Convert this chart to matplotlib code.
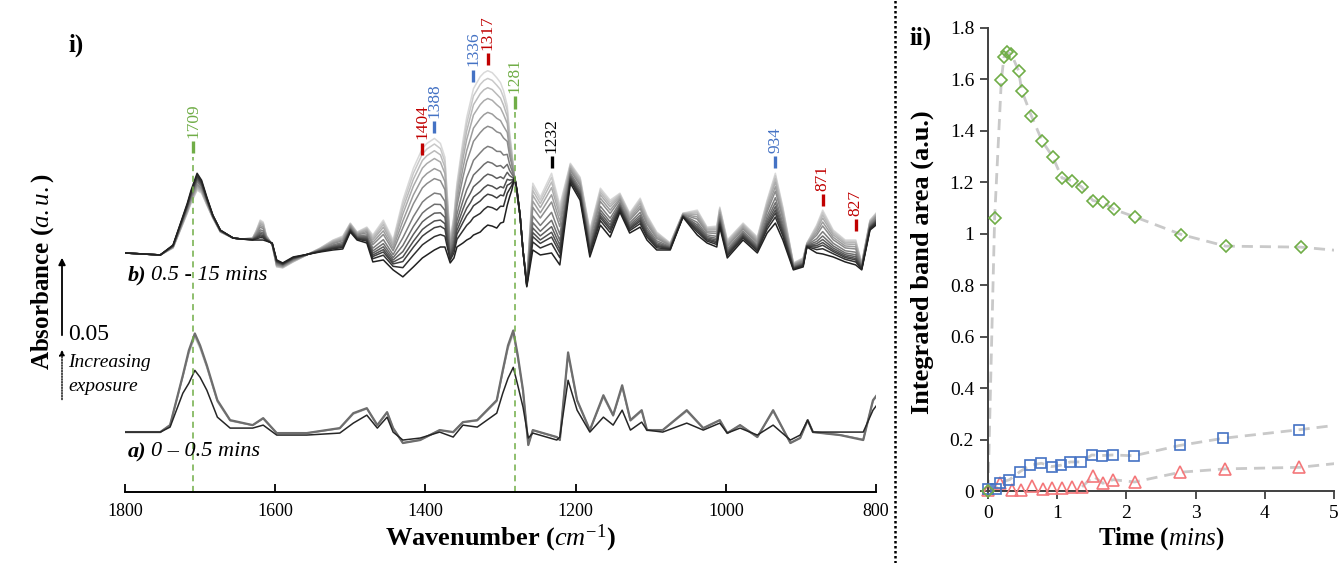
import matplotlib
matplotlib.use('Agg')
import matplotlib.pyplot as plt
import numpy as np
from matplotlib.lines import Line2D
from matplotlib.transforms import blended_transform_factory
from matplotlib.ticker import FuncFormatter

plt.rcParams['font.family'] = ['Liberation Serif', 'DejaVu Serif']
plt.rcParams['mathtext.fontset'] = 'custom'
plt.rcParams['mathtext.rm'] = 'Liberation Serif'
plt.rcParams['mathtext.it'] = 'Liberation Serif:italic'
plt.rcParams['mathtext.bf'] = 'Liberation Serif:bold'
plt.rcParams['mathtext.default'] = 'it'

# ---------------- spectra (absorbance in mAU, relative to each baseline) ----------------
# b) 0.5 - 15 mins : first (dark) and last (light) spectrum
wn_b = [1800, 1753, 1736, 1717, 1712, 1704, 1698, 1691, 1683, 1673, 1656, 1645, 1630, 1625,
        1620, 1616, 1612, 1604, 1598, 1590, 1576, 1540, 1523, 1510, 1500, 1491, 1478, 1470,
        1456, 1443, 1430, 1416, 1404, 1398, 1388, 1380, 1374, 1367, 1362, 1358, 1350, 1345,
        1340, 1336, 1327, 1322, 1317, 1311, 1305, 1300, 1296, 1291, 1288, 1285, 1281, 1278,
        1274, 1270, 1265, 1257, 1247, 1232, 1221, 1207, 1194, 1181, 1167, 1154, 1141, 1128,
        1114, 1105, 1092, 1074, 1057, 1038, 1025, 1012, 1008, 998, 977, 958, 945, 934, 924,
        910, 897, 892, 879, 871, 857, 841, 827, 819, 808, 800]
dark_b = [0, -1.2, 4.8, 30, 37.8, 48, 43.8, 33.6, 22.8, 13.8, 9, 8.4, 7.8, 7.8,
          7.8, 7.8, 7.2, 6, -4.2, -6, -2.4, 0.6, 1.8, 2.4, 12.6, 7.8, 6, -5.4,
          -4.2, -10.2, -14.4, -8.4, -3, -1.2, 1.8, 3.6, 3.6, -6, -3, 3.6, 6, 7.8,
          9, 10.8, 12.6, 15, 16.8, 16.2, 15, 18, 18.6, 28.8, 33.6, 37.8, 45.6, 37.8,
          22.8, 1.2, -20.4, 1.8, -1.2, 0, -7.2, 42, 31.8, -2.4, 16.8, 9.6, 24.6, 12,
          15.6, 7.8, 1.8, 1.8, 21.6, 10.8, 6, 3.6, 15.6, -3, 7.8, 0, 12, 18, 7.8,
          -10.2, -8.4, 3.6, 0, -0.6, -2.4, -5.4, -7.2, -10.2, 13.8, 16.8]
light_b = [0, -1.2, 3, 24, 30, 37.8, 36, 28.8, 21, 12.6, 9, 8.4, 9, 13.8,
           19.8, 18.6, 10.8, 4.8, -8.4, -9, -5.4, 3, 7.8, 10.2, 18, 12.6, 15.6, 10.8,
           19.8, 7.8, 31.8, 51, 63, 66, 69, 66, 57.6, 7.8, 22.8, 42, 67.8, 81.6,
           91.2, 99, 106.2, 108.6, 109.8, 108.6, 105.6, 102.6, 97.8, 88.8, 73.2, 61.8, 43.8, 34.8,
           22.8, 1.2, -16.2, 42, 33.6, 48, 28.8, 54, 45.6, 13.8, 39, 31.8, 36, 24,
           33, 22.8, 12.6, 6, 24, 25.8, 15.6, 16.2, 27.6, 7.8, 18, 9.6, 31.8, 48, 27.6,
           -6, -3, 6, 16.8, 25.8, 13.8, 7.8, 7.8, -6, 19.8, 24]
# fraction of the final band growth reached by each spectrum (early -> late)
growth_b = [0, 0.12, 0.20, 0.26, 0.33, 0.41, 0.51, 0.64, 0.73, 0.82, 0.89, 0.95, 1.0]

# a) 0 - 0.5 mins : dark (first) and grey spectra
wn_a = [1800, 1753, 1740, 1723, 1715, 1707, 1700, 1691, 1677, 1660, 1630, 1616, 1598, 1558,
        1514, 1496, 1478, 1464, 1451, 1443, 1430, 1407, 1381, 1363, 1350, 1331, 1318, 1305,
        1297, 1290, 1283, 1277, 1270, 1263, 1257, 1225, 1221, 1210, 1198, 1181, 1163, 1150,
        1138, 1127, 1112, 1105, 1084, 1052, 1030, 1008, 998, 981, 958, 937, 914, 901, 891,
        884, 848, 817, 804, 797]
dark_a = [0, 0, 3, 23.4, 29.4, 37.2, 33, 25.2, 9, 2.4, 2.4, 4.2, -1.8, -1.8,
          -0.6, 5.4, 10.2, 2.4, 9, 0, -4.8, -3.6, 0, -3, 4.2, 3, 7.2, 11.4,
          23.4, 32.4, 39, 28.2, 15, -3.6, -0.6, -4.8, -3, 31.2, 13.2, 0, 9, 4.2,
          13.2, 1.2, 6, 1.2, 0, 5.4, 1.2, 5.4, -0.6, 2.4, -1.8, 4.2, -4.8, -1.8, 7.2,
          0, 0, 0, 13.2, 17.4]
grey_a = [0, 0, 4.2, 34.2, 49.2, 59.4, 52.2, 40.2, 19.2, 7.2, 4.2, 8.4, -0.6, -0.6,
          2.4, 11.4, 14.4, 4.2, 12, 2.4, -6.6, -4.8, 1.2, 0, 6, 7.2, 13.2, 19.2,
          37.2, 52.2, 61.2, 46.2, 25.2, -7.8, 1.2, -3, -4.8, 48, 19.2, 1.2, 22.2, 10.2,
          28.2, 7.2, 13.2, 1.2, 1.2, 13.2, 2.4, 7.2, -0.6, 4.2, -3, 13.2, -6.6, -3.6, 7.2,
          0, -1.8, -4.8, 19.2, 23.4]
growth_a = [0, 1.0, 0.95, 0.9]

# marked bands
peak_wn = [1709, 1404, 1388, 1336, 1317, 1281, 1232, 934, 871, 827]
peak_col = ['#70ad47', '#c00000', '#4472c4', '#4472c4', '#c00000', '#70ad47', 'black',
            '#4472c4', '#c00000', '#c00000']

# ---------------- integrated band areas ----------------
t_green = [0, 0.096, 0.193, 0.231, 0.275, 0.337, 0.443, 0.487, 0.626, 0.785, 0.934, 1.069,
           1.209, 1.354, 1.517, 1.667, 1.816, 2.129, 2.794, 3.434, 4.518]
v_green = [0.0, 1.062, 1.598, 1.687, 1.706, 1.699, 1.633, 1.557, 1.459, 1.359, 1.300, 1.217,
           1.207, 1.182, 1.129, 1.122, 1.095, 1.065, 0.997, 0.952, 0.948]
t_blue = [0, 0.11, 0.17, 0.31, 0.46, 0.61, 0.77, 0.92, 1.05, 1.19, 1.34, 1.50, 1.65, 1.80,
          2.11, 2.77, 3.40, 4.49]
v_blue = [0.006, 0.006, 0.032, 0.044, 0.075, 0.100, 0.108, 0.095, 0.100, 0.113, 0.113, 0.140,
          0.138, 0.140, 0.137, 0.177, 0.205, 0.238]
t_red = [0, 0.17, 0.34, 0.48, 0.63, 0.79, 0.93, 1.07, 1.21, 1.36, 1.52, 1.66, 1.81, 2.12,
         2.78, 3.43, 4.50]
v_red = [0.004, 0.030, 0.004, 0.004, 0.019, 0.006, 0.010, 0.010, 0.016, 0.016, 0.058, 0.030,
         0.044, 0.035, 0.073, 0.086, 0.092]
# trend lines run on to the edge of the plot
t_end = 5.1
green_end, blue_end, red_end = 0.934, 0.258, 0.109

# ---------------- figure ----------------
fig = plt.figure(figsize=(13.38, 5.63), dpi=100)
W, H = 1338.0, 563.0

ax = fig.add_axes([125 / W, 71 / H, 751 / W, 492 / H])
ax.set_xlim(1800, 800)
ax.set_ylim(0, 0.2964)
off_b = 0.144
off_a = 0.0361

wb = np.array(wn_b)
db = np.array(dark_b)
lb = np.array(light_b)
greys_b = np.linspace(0.13, 0.85, len(growth_b))
for g, c in list(zip(growth_b, greys_b))[::-1]:
    ax.plot(wb, off_b + (db + g * (lb - db)) / 1000, color=str(c), lw=1.1,
            solid_joinstyle='round')

wa = np.array(wn_a)
da = np.array(dark_a)
ga = np.array(grey_a)
greys_a = ['#262626', '#6e6e6e', '#a0a0a0', '#c8c8c8']
for g, c in list(zip(growth_a, greys_a))[::-1]:
    lw = 1.6 if c == '#6e6e6e' else 1.1
    ax.plot(wa, off_a + (da + g * (ga - da)) / 1000, color=c, lw=lw, solid_joinstyle='round')

# band markers
tick_base = [0.204, 0.203, 0.216, 0.247, 0.257, 0.231, 0.195, 0.195, 0.172, 0.157]
for w, c, yb in zip(peak_wn, peak_col, tick_base):
    ax.plot([w, w], [yb, yb + 0.0075], color=c, lw=2.4, solid_capstyle='butt')
    ax.text(w, yb + 0.0095, str(w), color=c, rotation=90, ha='center', va='bottom',
            fontsize=12.5)
for w, yb in [(1709, 0.204), (1281, 0.231)]:
    ax.plot([w, w], [0, yb - 0.002], color='#70ad47', lw=1.1, ls=(0, (4, 3)))

ax.spines[['top', 'right', 'left']].set_visible(False)
ax.spines['bottom'].set_linewidth(1.4)
ax.set_yticks([])
ax.set_xticks([1800, 1600, 1400, 1200, 1000, 800])
ax.tick_params(axis='x', direction='in', length=6, width=1.3, labelsize=13, pad=8)
ax.set_xlabel(r'Wavenumber ($cm^{-1}$)', fontsize=19, fontweight='bold', labelpad=2)

# panel labels
fx = blended_transform_factory(fig.transFigure, ax.transData)
ax.text(128 / W, 0.1307, 'b)', transform=fx, fontsize=16, fontweight='bold',
        style='italic', va='center')
ax.text(151 / W, 0.1307, '0.5 - 15 mins', transform=fx, fontsize=16, style='italic',
        va='center')
ax.text(128 / W, 0.0241, 'a)', transform=fx, fontsize=16, fontweight='bold',
        style='italic', va='center')
ax.text(151 / W, 0.0241, '0 \u2013 0.5 mins', transform=fx, fontsize=16, style='italic',
        va='center')

# 0.05 absorbance scale bar
ax.annotate('', xy=(62 / W, 0.1428), xytext=(62 / W, 0.0928), xycoords=fx, textcoords=fx,
            arrowprops=dict(arrowstyle='-|>', color='black', lw=1.3, mutation_scale=10),
            annotation_clip=False)
ax.annotate('', xy=(62 / W, 0.0873), xytext=(62 / W, 0.054), xycoords=fx, textcoords=fx,
            arrowprops=dict(arrowstyle='-|>', color='black', lw=1.0, ls=(0, (1, 1)),
                            mutation_scale=8), annotation_clip=False)
ax.text(68 / W, 0.0946, '0.05', transform=fx, fontsize=17, va='center')
ax.text(68 / W, 0.0783, 'Increasing', transform=fx, fontsize=14, style='italic', va='center')
ax.text(68 / W, 0.0633, 'exposure', transform=fx, fontsize=14, style='italic', va='center')
fig.text(43 / W, 1 - 272 / H, r'Absorbance ($a.u.$)', rotation=90, fontsize=18,
         fontweight='bold', ha='center', va='center')
fig.text(76 / W, 1 - 45 / H, 'i)', fontsize=18, fontweight='bold', ha='center', va='center')

# ---------------- right panel ----------------
ax2 = fig.add_axes([988 / W, 72 / H, 346 / W, 463 / H])
ax2.set_xlim(0, 5)
ax2.set_ylim(0, 1.8)
dash = dict(color='#c9c9c9', lw=2, ls=(0, (4, 2.5)), zorder=1)
ax2.plot(t_green + [t_end], v_green + [green_end], **dash)
ax2.plot(t_blue + [t_end], v_blue + [blue_end], **dash)
i0 = t_red.index(1.36)
ax2.plot(t_red[i0:] + [t_end], v_red[i0:] + [red_end], **dash)
ax2.plot([0, 1.45], [0, 0], color='#c00000', lw=1.4, zorder=2)
ax2.plot(t_red, v_red, ls='none', marker='^', ms=8, mfc='none', mec='#f4777a', mew=1.2,
         clip_on=False, zorder=3)
ax2.plot(t_blue, v_blue, ls='none', marker='s', ms=7, mfc='none', mec='#4472c4', mew=1.2,
         clip_on=False, zorder=3)
ax2.plot(t_green, v_green, ls='none', marker='D', ms=6.5, mfc='none', mec='#70ad47', mew=1.2,
         clip_on=False, zorder=3)

ax2.spines[['top', 'right']].set_visible(False)
for s in ['left', 'bottom']:
    ax2.spines[s].set_color('#404040')
    ax2.spines[s].set_linewidth(1.4)
ax2.set_yticks(np.arange(0, 1.81, 0.2))
ax2.set_xticks(range(6))
ax2.yaxis.set_major_formatter(FuncFormatter(lambda v, p: '%g' % round(v, 1)))
ax2.tick_params(direction='out', length=6, width=1.3, color='#404040', labelsize=14, pad=4)
ax2.set_xlabel(r'Time ($mins$)', fontsize=18, fontweight='bold', labelpad=2)
fig.text(922 / W, 1 - 262 / H, 'Integrated band area (a.u.)', rotation=90, fontsize=19,
         fontweight='bold', ha='center', va='center')
fig.text(921 / W, 1 - 38 / H, 'ii)', fontsize=18, fontweight='bold', ha='center',
         va='center')

# dotted separator between the panels
fig.add_artist(Line2D([895 / W, 895 / W], [0, 1], transform=fig.transFigure, color='black',
                      lw=1.8, ls=(0, (1, 1))))

fig.savefig('out.png', dpi=100)
